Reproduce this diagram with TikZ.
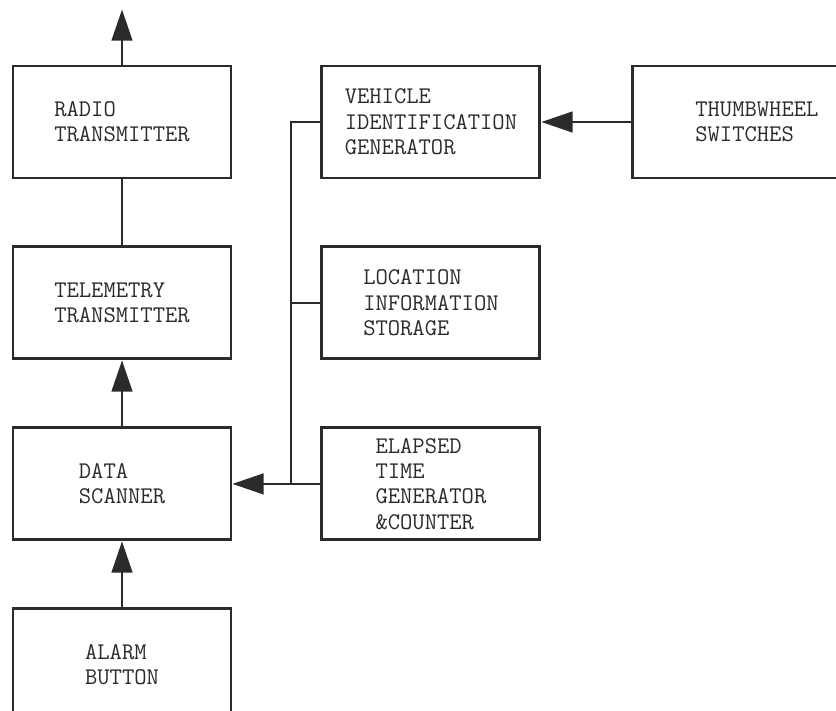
\documentclass[tikz,border=0pt]{standalone}
\usepackage{fontspec}
\usepackage{tikz}
\usetikzlibrary{arrows.meta,positioning}
\usepackage{xcolor}
\definecolor{avlink}{HTML}{2B2B2B}
\tikzset{
    avlbox/.style={draw=avlink, line width=2.1pt, align=left, text=avlink, font=\ttfamily\addfontfeatures{LetterSpace=5}\fontsize{17}{18}\selectfont, minimum width=5.45cm, minimum height=2.8cm, inner sep=0pt},
    avlarrow/.style={-{Triangle[length=0.78cm, width=0.52cm]}, draw=avlink, line width=1.4pt},
    avlline/.style={draw=avlink, line width=1.4pt}
}

\begin{document}
\begin{tikzpicture}[node distance=1.65cm and 2.2cm]
        \useasboundingbox[fill=white] (0,0) rectangle (20.9,-17.75);
        \clip (0,0) rectangle (20.9,-17.75);

        \node[avlbox] (radio) at (3.05,-3.05) {RADIO\\TRANSMITTER};
        \node[avlbox, below=of radio] (telemetry) {TELEMETRY\\TRANSMITTER};
        \node[avlbox, below=of telemetry] (scanner) {DATA\\SCANNER};
        \node[avlbox, below=of scanner] (alarm) {ALARM\\BUTTON};

        \node[avlbox, right=of radio] (vehicleid) {VEHICLE\\IDENTIFICATION\\GENERATOR};
        \node[avlbox, right=2.25cm of vehicleid, minimum width=6.2cm] (thumbwheel) {THUMBWHEEL\\SWITCHES};
        \node[avlbox, right=of telemetry] (location) {LOCATION\\INFORMATION\\STORAGE};
        \node[avlbox, right=of scanner] (elapsed) {ELAPSED\\TIME\\GENERATOR\\\&COUNTER};

        \coordinate[above=1.375cm of radio.north] (antenna);
        \coordinate[left=0.725cm of elapsed.west] (busjoin);

        \draw[avlarrow] (radio) -- (antenna);
        \draw[avlline] (telemetry) -- (radio);
        \draw[avlarrow] (scanner) -- (telemetry);
        \draw[avlarrow] (alarm) -- (scanner);
        \draw[avlarrow] (thumbwheel) -- (vehicleid);
        \draw[avlarrow] (elapsed) -- (scanner);
        \draw[avlline] (vehicleid.west) -| (busjoin);
        \draw[avlline] (location.west) -- (location.west -| busjoin);
    \end{tikzpicture}
\end{document}
